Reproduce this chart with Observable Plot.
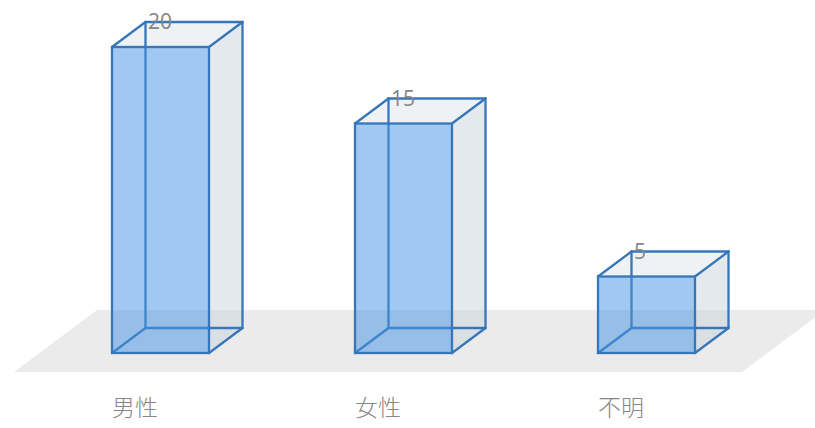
<!DOCTYPE html>
<html>
<head>
<meta charset="utf-8">
<script src="https://cdn.jsdelivr.net/npm/d3@7"></script>
<script src="https://cdn.jsdelivr.net/npm/@observablehq/plot@0.6"></script>
<style>
  html, body { margin: 0; padding: 0; background: #fff; }
  #chart { width: 815px; height: 428px; }
</style>
</head>
<body>
<div id="chart"></div>
<script>
const categories = ["男性", "女性", "不明"];
const values = [20, 15, 5];

const data = categories.map((c, i) => ({cat: c, value: values[i]}));

const EDGE = "#3776b9";
const SW = 2.3;
const DX = 33.5, DY = -25;          // 3D depth offset of the boxes
const FDX = 83, FDY = -62;          // depth of the floor

function poly(g, pts, attrs) {
  const p = g.append("polygon").attr("points", pts.map(d => d.join(",")).join(" "));
  for (const k in attrs) p.attr(k, attrs[k]);
  return p;
}
function line(g, a, b) {
  g.append("line").attr("x1", a[0]).attr("y1", a[1]).attr("x2", b[0]).attr("y2", b[1])
    .attr("stroke", EDGE).attr("stroke-width", SW).attr("stroke-linecap", "round");
}

function boxGeom(d, scales) {
  const x0 = scales.x(d.cat), w = scales.x.bandwidth(), yb = scales.y(0), yt = scales.y(d.value);
  return {x0, w, yb, yt};
}

// floor
const floorMark = (index, scales) => {
  const g = d3.create("svg:g");
  const [r0, r1] = scales.x.range();
  const yb = scales.y(0);
  const yf = yb + 19;
  const a = [r0 - 49, yf], b = [r1 - 2, yf];
  poly(g, [a, b, [b[0] + FDX, b[1] + FDY], [a[0] + FDX, a[1] + FDY]], {fill: "#ebebeb"});
  return g.node();
};

// side and top face fills
const sideTopFill = (index, scales) => {
  const g = d3.create("svg:g");
  for (const d of data) {
    const {x0, w, yb, yt} = boxGeom(d, scales);
    poly(g, [[x0 + w, yt], [x0 + w + DX, yt + DY], [x0 + w + DX, yb + DY], [x0 + w, yb]],
      {fill: "#c9d3db", "fill-opacity": 0.5});
    poly(g, [[x0, yt], [x0 + DX, yt + DY], [x0 + w + DX, yt + DY], [x0 + w, yt]],
      {fill: "#dde5eb", "fill-opacity": 0.5});
  }
  return g.node();
};

// all box edges except the front face outline
const boxEdges = (index, scales) => {
  const g = d3.create("svg:g");
  for (const d of data) {
    const {x0, w, yb, yt} = boxGeom(d, scales);
    // hidden edges
    line(g, [x0 + DX, yt + DY], [x0 + DX, yb + DY]);
    line(g, [x0 + DX, yb + DY], [x0 + w + DX, yb + DY]);
    line(g, [x0, yb], [x0 + DX, yb + DY]);
    // visible edges
    line(g, [x0, yt], [x0 + DX, yt + DY]);
    line(g, [x0 + DX, yt + DY], [x0 + w + DX, yt + DY]);
    line(g, [x0 + w, yt], [x0 + w + DX, yt + DY]);
    line(g, [x0 + w + DX, yt + DY], [x0 + w + DX, yb + DY]);
    line(g, [x0 + w, yb], [x0 + w + DX, yb + DY]);
  }
  return g.node();
};

const chart = Plot.plot({
  width: 815,
  height: 428,
  margin: 0,
  style: {background: "#fff", overflow: "visible"},
  x: {domain: categories, range: [63, 744], paddingInner: 0.6, paddingOuter: 0.2, axis: null},
  y: {domain: [0, 20], range: [353, 47], axis: null},
  marks: [
    floorMark,
    sideTopFill,
    boxEdges,
    Plot.rect(data, {x: "cat", y1: 0, y2: "value", inset: 0,
      fill: "#4191e1", fillOpacity: 0.5, stroke: EDGE, strokeWidth: SW}),
    Plot.text(data, {x: "cat", y: "value", text: d => String(d.value), dx: -13, dy: -25,
      textAnchor: "start", lineAnchor: "middle", fontSize: 21, fill: "#858585",
      fontFamily: "'Open Sans', 'Noto Sans', sans-serif"}),
    Plot.text(data, {x: "cat", y: () => 0, text: "cat", dx: -26, dy: 55,
      textAnchor: "middle", lineAnchor: "middle", fontSize: 23, fill: "#878787",
      fontWeight: 300, fontFamily: "'Noto Sans CJK JP', sans-serif"})
  ]
});
document.getElementById("chart").appendChild(chart);
</script>
</body>
</html>
